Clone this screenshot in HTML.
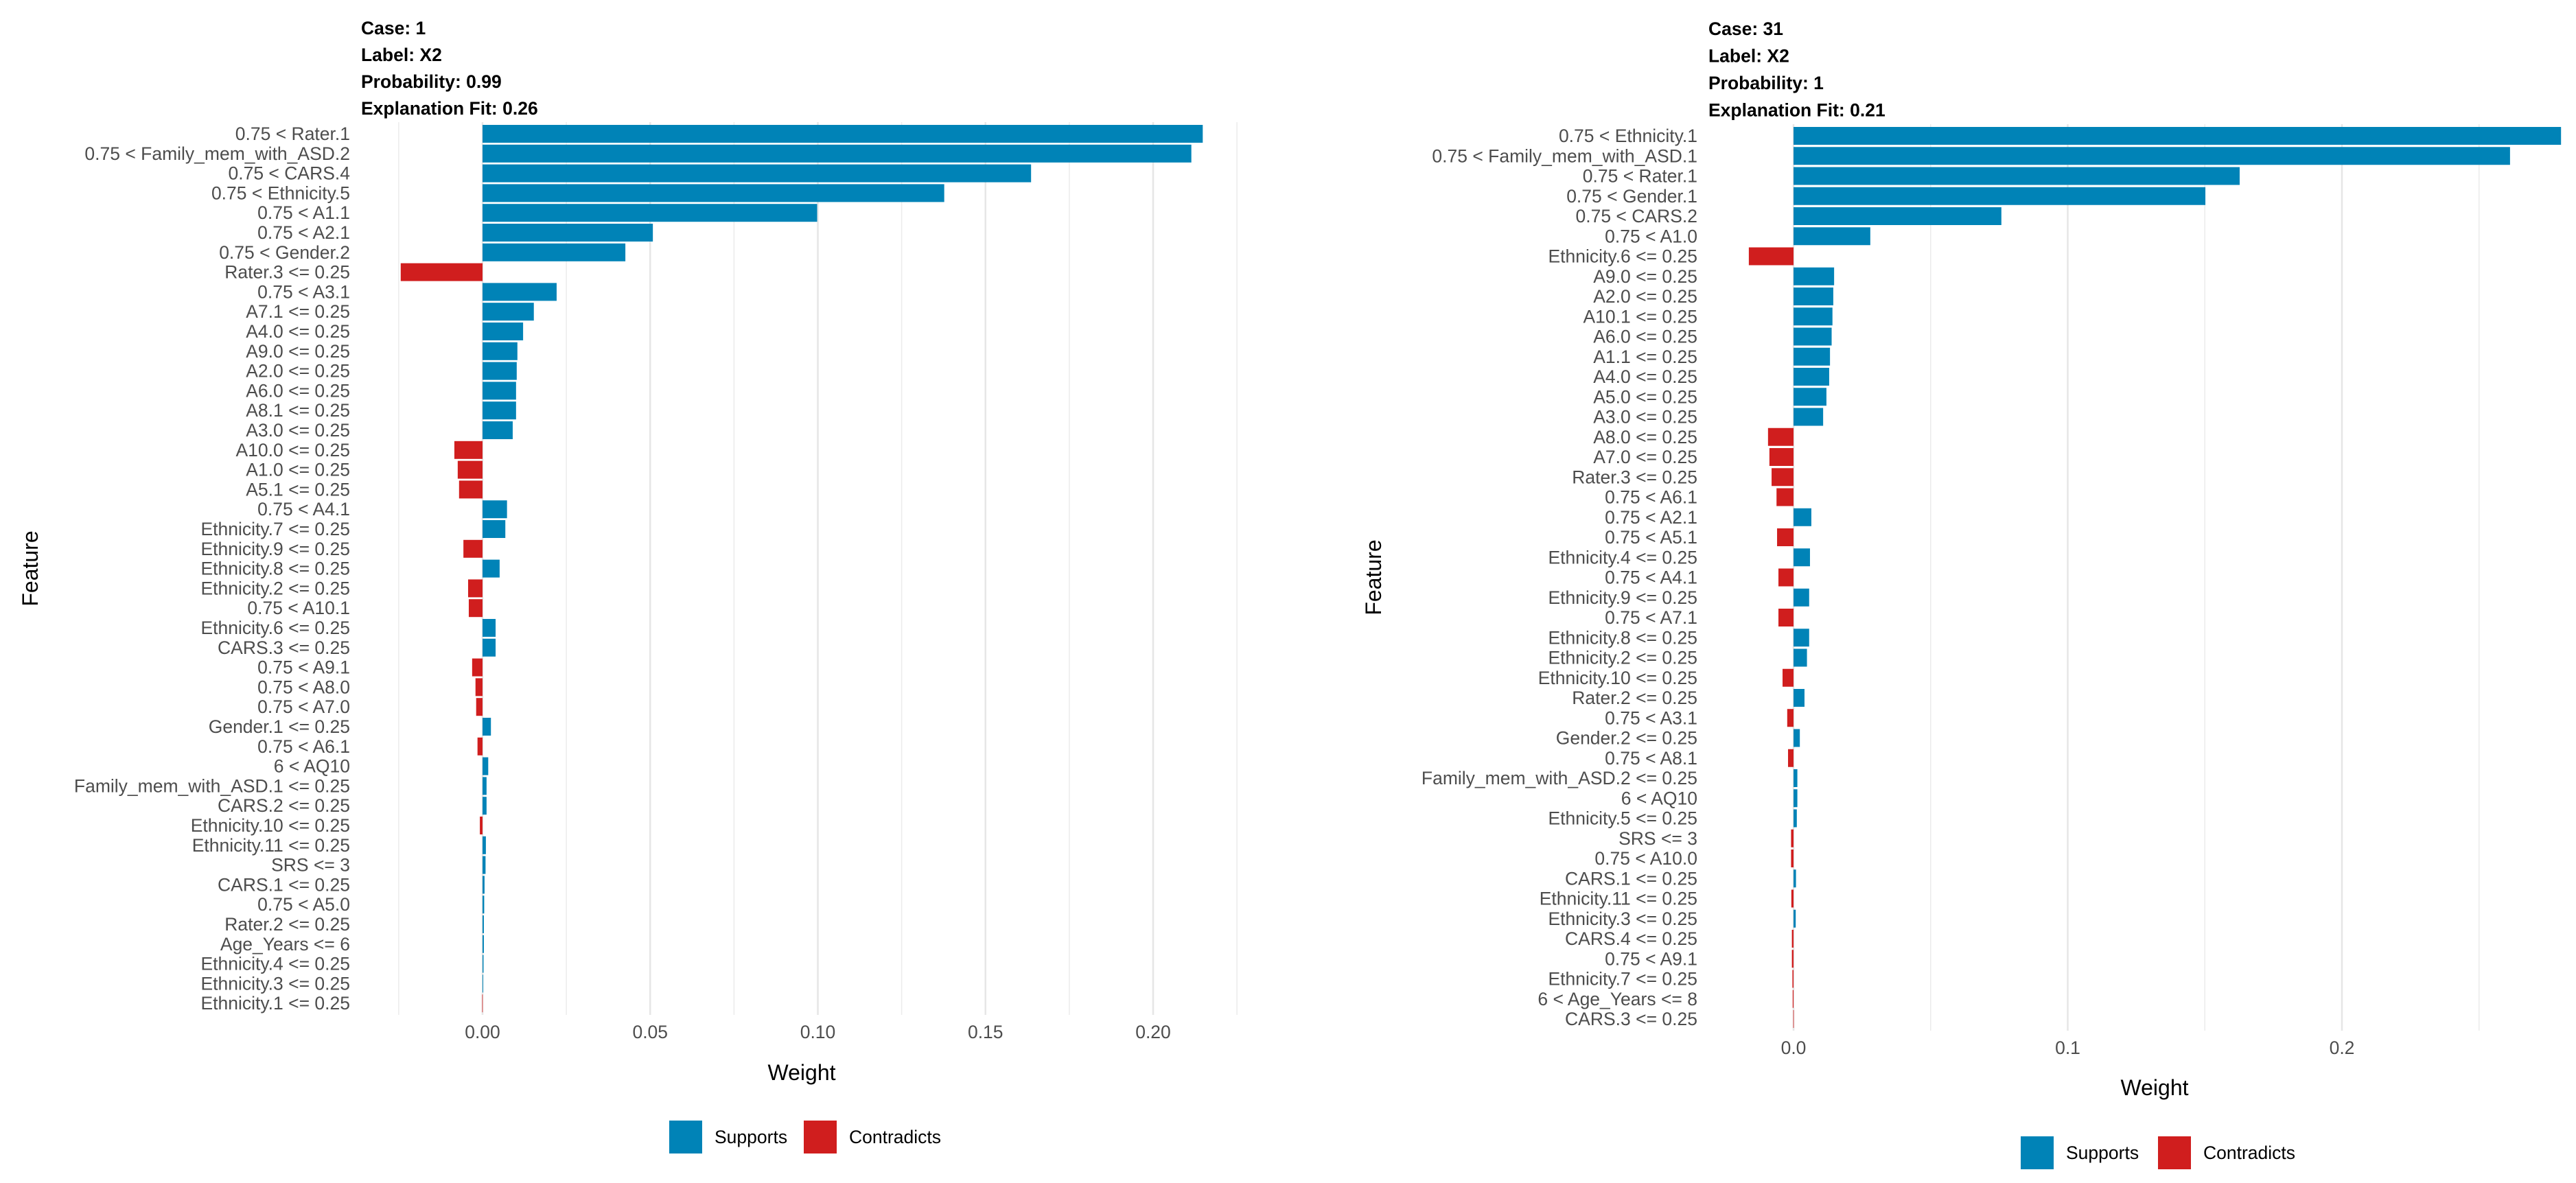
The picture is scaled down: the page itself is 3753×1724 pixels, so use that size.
<!DOCTYPE html>
<html><head><meta charset="utf-8"><style>
html,body{margin:0;padding:0;background:#fff;}
svg{display:block;font-family:"Liberation Sans",Arial,sans-serif;}
</style></head><body>
<svg id="chart" width="3753" height="1724" viewBox="0 0 3753 1724" xmlns="http://www.w3.org/2000/svg">
<g id="p1"></g>
<g id="p2"></g>
</svg>
<script>
const features1 = ["0.75 < Rater.1","0.75 < Family_mem_with_ASD.2","0.75 < CARS.4","0.75 < Ethnicity.5","0.75 < A1.1","0.75 < A2.1","0.75 < Gender.2","Rater.3 <= 0.25","0.75 < A3.1","A7.1 <= 0.25","A4.0 <= 0.25","A9.0 <= 0.25","A2.0 <= 0.25","A6.0 <= 0.25","A8.1 <= 0.25","A3.0 <= 0.25","A10.0 <= 0.25","A1.0 <= 0.25","A5.1 <= 0.25","0.75 < A4.1","Ethnicity.7 <= 0.25","Ethnicity.9 <= 0.25","Ethnicity.8 <= 0.25","Ethnicity.2 <= 0.25","0.75 < A10.1","Ethnicity.6 <= 0.25","CARS.3 <= 0.25","0.75 < A9.1","0.75 < A8.0","0.75 < A7.0","Gender.1 <= 0.25","0.75 < A6.1","6 < AQ10","Family_mem_with_ASD.1 <= 0.25","CARS.2 <= 0.25","Ethnicity.10 <= 0.25","Ethnicity.11 <= 0.25","SRS <= 3","CARS.1 <= 0.25","0.75 < A5.0","Rater.2 <= 0.25","Age_Years <= 6","Ethnicity.4 <= 0.25","Ethnicity.3 <= 0.25","Ethnicity.1 <= 0.25"];
const weights1 = [0.2148,0.2114,0.1636,0.1377,0.0998,0.0508,0.0426,-0.0244,0.0221,0.0153,0.0121,0.0104,0.0102,0.0100,0.0100,0.0090,-0.0084,-0.0074,-0.0070,0.0073,0.0068,-0.0057,0.0051,-0.0043,-0.0041,0.0039,0.0039,-0.0031,-0.0021,-0.0019,0.0025,-0.0015,0.0017,0.0012,0.0012,-0.0008,0.0010,0.0009,0.0006,0.0005,0.0004,0.0004,0.0003,0.0002,-0.0001];
const ticks1 = [0,0.05,0.10,0.15,0.20];
const tickLabels1 = ["0.00","0.05","0.10","0.15","0.20"];
const title1 = ["Case: 1","Label: X2","Probability: 0.99","Explanation Fit: 0.26"];

const features2 = ["0.75 < Ethnicity.1","0.75 < Family_mem_with_ASD.1","0.75 < Rater.1","0.75 < Gender.1","0.75 < CARS.2","0.75 < A1.0","Ethnicity.6 <= 0.25","A9.0 <= 0.25","A2.0 <= 0.25","A10.1 <= 0.25","A6.0 <= 0.25","A1.1 <= 0.25","A4.0 <= 0.25","A5.0 <= 0.25","A3.0 <= 0.25","A8.0 <= 0.25","A7.0 <= 0.25","Rater.3 <= 0.25","0.75 < A6.1","0.75 < A2.1","0.75 < A5.1","Ethnicity.4 <= 0.25","0.75 < A4.1","Ethnicity.9 <= 0.25","0.75 < A7.1","Ethnicity.8 <= 0.25","Ethnicity.2 <= 0.25","Ethnicity.10 <= 0.25","Rater.2 <= 0.25","0.75 < A3.1","Gender.2 <= 0.25","0.75 < A8.1","Family_mem_with_ASD.2 <= 0.25","6 < AQ10","Ethnicity.5 <= 0.25","SRS <= 3","0.75 < A10.0","CARS.1 <= 0.25","Ethnicity.11 <= 0.25","Ethnicity.3 <= 0.25","CARS.4 <= 0.25","0.75 < A9.1","Ethnicity.7 <= 0.25","6 < Age_Years <= 8","CARS.3 <= 0.25"];
const weights2 = [0.2799,0.2613,0.1627,0.1502,0.0758,0.0280,-0.0163,0.0148,0.0145,0.0142,0.0139,0.0133,0.0130,0.0120,0.0108,-0.0093,-0.0088,-0.0080,-0.0062,0.0065,-0.0060,0.0060,-0.0055,0.0057,-0.0055,0.0057,0.0049,-0.0040,0.0040,-0.0023,0.0023,-0.0020,0.0014,0.0014,0.0012,-0.0009,-0.0009,0.0009,-0.0008,0.0008,-0.0006,-0.0006,-0.0004,-0.0003,-0.0001];
const ticks2 = [0,0.1,0.2];
const tickLabels2 = ["0.0","0.1","0.2"];
const title2 = ["Case: 31","Label: X2","Probability: 1","Explanation Fit: 0.21"];

const NS = "http://www.w3.org/2000/svg";
function mk(parent, tag, attrs, text){
  const e = document.createElementNS(NS, tag);
  for (const k in attrs) e.setAttribute(k, attrs[k]);
  if (text !== undefined) e.textContent = text;
  parent.appendChild(e); return e;
}
function panel(g, cfg, features, weights, ticks, tickLabels, titles){
  const xs = v => cfg.x0 + v * cfg.pxPerUnit;
  const ys = i => cfg.yTop + i * cfg.step;
  for (const v of cfg.gridMin){
    const l = mk(g,"line",{x1:xs(v),x2:xs(v),y1:cfg.gTop,y2:cfg.gBot,stroke:"#ebebeb","stroke-width":1.5});
    
    
  }
  ticks.forEach((v,i)=>{
    const l = mk(g,"line",{x1:xs(v),x2:xs(v),y1:cfg.gTop,y2:cfg.gBot,stroke:"#e6e6e6","stroke-width":2.5});
    
    
    const t = mk(g,"text",{x:xs(v),y:cfg.tickY,"font-size":26.5,fill:"#4d4d4d","text-anchor":"middle"},tickLabels[i]);
    
    
  });
  features.forEach((f,i)=>{
    const w = weights[i];
    const x1 = xs(Math.min(0,w)), x2 = xs(Math.max(0,w));
    const r = mk(g,"rect",{x:x1,y:ys(i)-13,width:Math.max(0.8,x2-x1),height:26,fill: w>=0?"#0083b7":"#d01e1e"});
    
    
    const t = mk(g,"text",{x:cfg.labelX,y:ys(i)+9,"font-size":26.5,fill:"#4d4d4d","text-anchor":"end"},f);
    
    
  });
  titles.forEach((s,i)=>{
    const t = mk(g,"text",{x:cfg.titleX,y:cfg.titleY+i*cfg.titleStep,"font-size":26.5,"font-weight":"bold",fill:"#000"},s);
    
    
  });
  const wt = mk(g,"text",{x:cfg.weightX,y:cfg.weightY,"font-size":32,fill:"#000","text-anchor":"middle"},"Weight");
  
  
  const fcy = (cfg.gTop+cfg.gBot)/2;
  const ft = mk(g,"text",{x:cfg.featX,y:fcy,"font-size":32,fill:"#000","text-anchor":"middle",transform:`rotate(-90 ${cfg.featX} ${fcy})`},"Feature");
  
  
  const lg = mk(g,"g",{});
  
  
  const k1 = mk(lg,"rect",{x:cfg.legX,y:cfg.legY-24,width:48,height:48,fill:"#0083b7"});
  
  
  const t1 = mk(lg,"text",{x:cfg.legX+66,y:cfg.legY+9,"font-size":26.5,fill:"#000"},"Supports");
  
  
  const k2 = mk(lg,"rect",{x:cfg.legX2,y:cfg.legY-24,width:48,height:48,fill:"#d01e1e"});
  
  
  const t2 = mk(lg,"text",{x:cfg.legX2+66,y:cfg.legY+9,"font-size":26.5,fill:"#000"},"Contradicts");
  
  
}
panel(document.getElementById('p1'),
  {x0:703,pxPerUnit:4885,yTop:195,step:28.8,gTop:178,gBot:1479,gridMin:[-0.025,0.025,0.075,0.125,0.175,0.225],
   tickY:1513,labelX:510,titleX:526,titleY:50,titleStep:39,weightX:1168,weightY:1574,featX:55,legX:975,legX2:1171,legY:1657},
  features1,weights1,ticks1,tickLabels1,title1);
panel(document.getElementById('p2'),
  {x0:2613,pxPerUnit:3995,yTop:198,step:29.25,gTop:181,gBot:1502,gridMin:[0.05,0.15,0.25],
   tickY:1536,labelX:2473,titleX:2489,titleY:51,titleStep:39.5,weightX:3139,weightY:1596,featX:2012,legX:2944,legX2:3144,legY:1680},
  features2,weights2,ticks2,tickLabels2,title2);
</script>
</body></html>
